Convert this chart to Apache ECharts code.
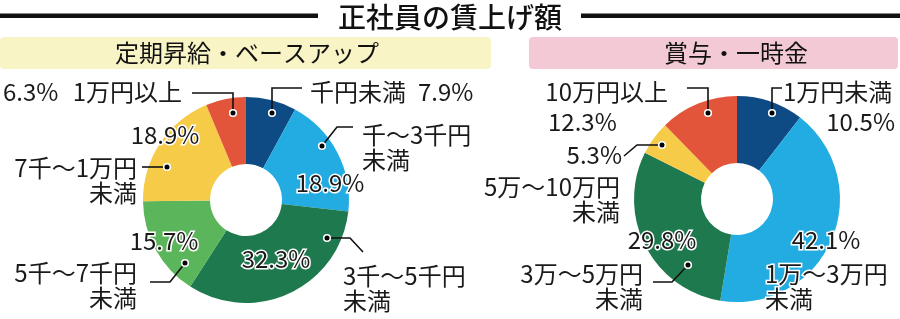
<!DOCTYPE html>
<html><head><meta charset="utf-8">
<script src="https://cdn.jsdelivr.net/npm/echarts@6/dist/echarts.min.js"></script>
<style>html,body{margin:0;padding:0;background:#fff}#c{width:900px;height:319px}</style>
</head><body><div id="c"></div>
<script>
// ---- data ----
const mainTitle = '正社員の賃上げ額';
const leftTitle = '定期昇給・ベースアップ';
const rightTitle = '賞与・一時金';
const leftCategories = ['千円未満', '千～3千円未満', '3千～5千円未満', '5千～7千円未満', '7千～1万円未満', '1万円以上'];
const leftValues = [7.9, 18.9, 32.3, 15.7, 18.9, 6.3];
const rightCategories = ['1万円未満', '1万～3万円未満', '3万～5万円未満', '5万～10万円未満', '10万円以上'];
const rightValues = [10.5, 42.1, 29.8, 5.3, 12.3];

// ---- styles / layout ----
const FONT = '"Noto Sans CJK JP", "Noto Sans", sans-serif';
const leftColors = ['#0e4a84', '#22ace2', '#1e7a4e', '#5bb55a', '#f6cb48', '#e2553a'];
const rightColors = ['#0e4a84', '#22ace2', '#1e7a4e', '#f6cb48', '#e2553a'];
const leftCenter = [246, 200], rightCenter = [737, 199];
const RADIUS = [36, 103];

const leftNameLayout = [
  {x: 310, y: 92, align: 'left', line: [[272, 113], [272, 88], [302, 88]]},
  {x: 362, y: 147, align: 'left', wrap: true, line: [[322, 146], [337, 127], [353, 127]]},
  {x: 343, y: 288, align: 'left', wrap: true, line: [[327, 238], [350, 238], [363, 252]]},
  {x: 137, y: 285, align: 'right', wrap: true, line: [[185, 263], [170, 282], [150, 282]]},
  {x: 137, y: 180, align: 'right', wrap: true, line: [[167, 167], [142, 167]]},
  {x: 182, y: 92, align: 'right', line: [[233, 113], [233, 93], [192, 93]]}
];
const leftPctLayout = [
  {x: 418, y: 92, align: 'left'},
  {x: 330, y: 183, align: 'center'},
  {x: 276, y: 259, align: 'center'},
  {x: 164, y: 241, align: 'center'},
  {x: 165, y: 135, align: 'center'},
  {x: 3, y: 92, align: 'left'}
];
const rightNameLayout = [
  {x: 783, y: 92, align: 'left', line: [[772, 113], [772, 88], [782, 88]]},
  {x: 765, y: 286, align: 'left', wrap: true},
  {x: 643, y: 286, align: 'right', wrap: true, line: [[688, 265], [672, 282], [653, 282]]},
  {x: 620, y: 199, align: 'right', wrap: true},
  {x: 668, y: 92, align: 'right', line: [[708, 113], [708, 88], [687, 88]]}
];
const rightPctLayout = [
  {x: 895, y: 122, align: 'right'},
  {x: 826, y: 240, align: 'center'},
  {x: 662, y: 240, align: 'center'},
  {x: 622, y: 155, align: 'right', line: [[662, 145], [637, 145], [624, 156]]},
  {x: 548, y: 122, align: 'left'}
];

const textStyle = {
  fontSize: 24, fontFamily: FONT, color: '#1a1a1a', lineHeight: 25,
  textBorderColor: '#fff', textBorderWidth: 3
};
const lineStyle = {color: '#111', width: 1.6};

function mainPie(center, names, values, colors) {
  return {
    type: 'pie', center: center, radius: RADIUS, startAngle: 90, clockwise: true,
    silent: true, animation: false, label: {show: false}, labelLine: {show: false},
    data: values.map((v, i) => ({value: v, name: names[i], itemStyle: {color: colors[i]}}))
  };
}
function labelPie(center, names, values, layout, formatter) {
  return {
    type: 'pie', center: center, radius: RADIUS, startAngle: 90, clockwise: true,
    silent: true, animation: false, avoidLabelOverlap: false, z: 5,
    itemStyle: {color: 'rgba(0,0,0,0)'},
    label: Object.assign({show: true, position: 'outside', formatter: formatter}, textStyle),
    labelLine: {show: true, length: 5, length2: 5, lineStyle: lineStyle},
    labelLayout: function (p) {
      const L = layout[p.dataIndex];
      const r = {x: L.x, y: L.y, align: L.align, verticalAlign: 'middle'};
      if (L.line) r.labelLinePoints = L.line;
      return r;
    },
    data: values.map((v, i) => ({value: v, name: names[i], labelLine: {show: !!layout[i].line}}))
  };
}
const nameFmt = layout => p => layout[p.dataIndex].wrap ? p.name.replace(/未満$/, '\n未満') : p.name;
const pctFmt = p => p.value.toFixed(1) + '%';

const dots = [];
[leftNameLayout, leftPctLayout, rightNameLayout, rightPctLayout].forEach(arr => arr.forEach(L => {
  if (L.line) dots.push({type: 'circle', z: 100, shape: {cx: L.line[0][0], cy: L.line[0][1], r: 3.3},
    style: {fill: '#000', stroke: '#fff', lineWidth: 1.6}, silent: true});
}));

const chart = echarts.init(document.getElementById('c'), null, {renderer: 'canvas'});
chart.setOption({
  animation: false,
  graphic: [
    {type: 'rect', shape: {x: 0, y: 13.5, width: 318, height: 4.5}, style: {fill: '#111'}},
    {type: 'rect', shape: {x: 581, y: 13.5, width: 319, height: 4.5}, style: {fill: '#111'}},
    {type: 'text', x: 450, y: 17, style: {text: mainTitle, font: '500 28px ' + FONT, fill: '#111', align: 'center', verticalAlign: 'middle'}},
    {type: 'rect', shape: {x: 0, y: 37, width: 491, height: 32, r: 4}, style: {fill: '#f8f4c6'}},
    {type: 'rect', shape: {x: 529, y: 37, width: 369, height: 32, r: 4}, style: {fill: '#f2c9d4'}},
    {type: 'text', x: 247, y: 53, style: {text: leftTitle, font: '24px ' + FONT, fill: '#111', align: 'center', verticalAlign: 'middle'}},
    {type: 'text', x: 736, y: 53, style: {text: rightTitle, font: '24px ' + FONT, fill: '#111', align: 'center', verticalAlign: 'middle'}}
  ].concat(dots),
  series: [
    mainPie(leftCenter, leftCategories, leftValues, leftColors),
    mainPie(rightCenter, rightCategories, rightValues, rightColors),
    labelPie(leftCenter, leftCategories, leftValues, leftNameLayout, nameFmt(leftNameLayout)),
    labelPie(leftCenter, leftCategories, leftValues, leftPctLayout, pctFmt),
    labelPie(rightCenter, rightCategories, rightValues, rightNameLayout, nameFmt(rightNameLayout)),
    labelPie(rightCenter, rightCategories, rightValues, rightPctLayout, pctFmt)
  ]
});
</script>
</body></html>
